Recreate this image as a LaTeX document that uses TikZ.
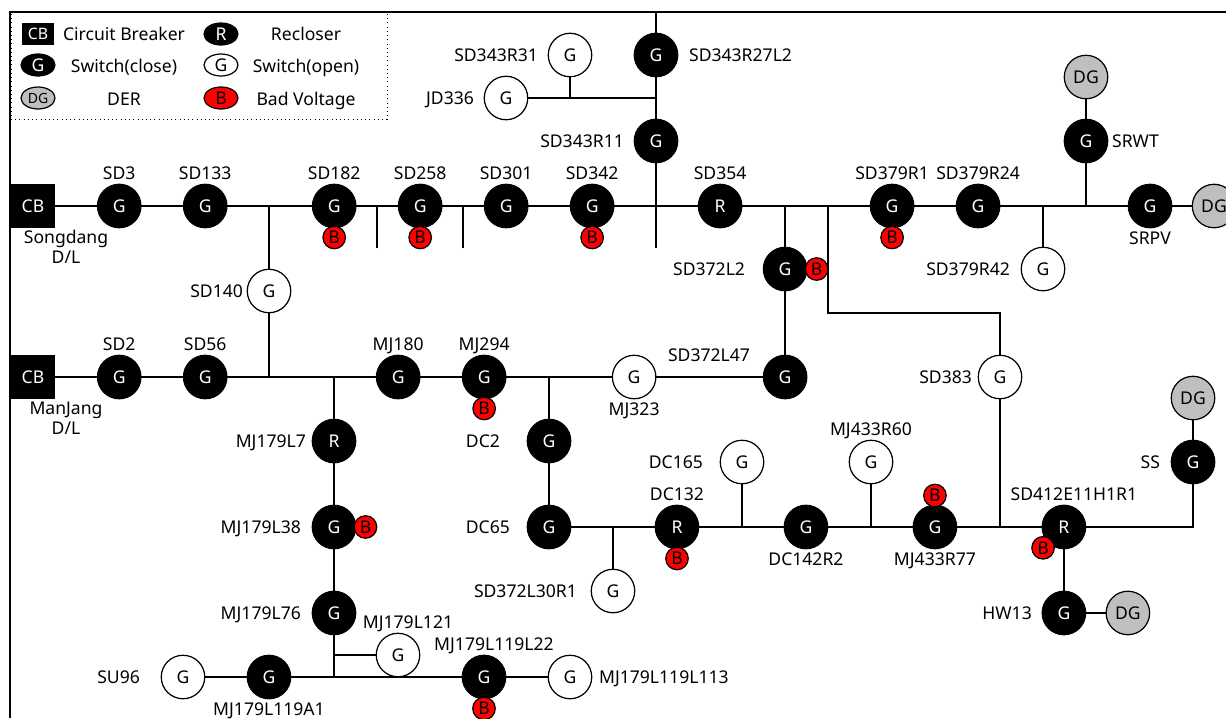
\documentclass[tikz,border=0pt]{standalone}
\usepackage{fontspec}
\setmainfont{Noto Sans}
\usetikzlibrary{shapes.geometric,positioning}

\begin{document}
\begin{tikzpicture}[
        x=0.02cm, y=-0.02cm,
        node distance=0.85cm,
        font=\fontsize{10pt}{11.5pt}\selectfont,
        every label/.style={text=black, inner sep=0.08cm, text depth=0pt},
        base/.style={draw, circle, line width=0.7pt, outer sep=0pt, minimum size=0.87cm, inner sep=0pt},
        closed/.style={base, fill=black, text=white},
        open/.style={base, fill=white},
        der/.style={base, fill=black!25},
        cbk/.style={rectangle, fill=black, text=white, outer sep=0pt, minimum size=0.88cm, inner sep=0pt},
        badge/.style={draw, circle, line width=0.7pt, outer sep=0pt, fill=red, minimum size=0.45cm, inner sep=0pt},
        lgd/.style={ellipse, minimum width=0.68cm, minimum height=0.44cm, inner sep=0pt},
        lgt/.style={anchor=base},
        wire/.style={line width=1.1pt}
    ]
        \useasboundingbox (0,0) rectangle (1226,718);

        % Frame
        \draw[wire] (10,718) -- (10,12) -- (1226,12);

        % Legend
        \node[draw, dotted, minimum width=7.52cm, minimum height=2.14cm] (legend) at (199,66) {};
        \node[cbk, minimum width=0.66cm, minimum height=0.44cm, font=\small] (lgcb) at (38,34) {CB};
        \node[closed, lgd] (lgr) at (221,34) {R};
        \node[closed, lgd] (lgg) at (38,65) {G};
        \node[open, lgd] (lgo) at (221,65) {G};
        \node[der, lgd, font=\footnotesize] (lgdg) at (38,98) {DG};
        \node[badge, lgd] (lgb) at (221,98) {B};
        \node[lgt] (lgcbt) at (124,40) {Circuit Breaker};
        \node[lgt] (lgrt) at (306,40) {Recloser};
        \node[lgt] (lggt) at (124,72) {Switch(close)};
        \node[lgt] (lgot) at (306,72) {Switch(open)};
        \node[lgt] (lgdgt) at (124,105) {DER};
        \node[lgt] (lgbt) at (306,105) {Bad Voltage};

        % Songdang feeder
        \node[cbk] (cb1) at (33,206) {CB};
        \node[align=center] (songdang) at (66,247) {Songdang\\D/L};
        \node[closed, right=of cb1, label=above:SD3] (sd3) {G};
        \node[closed, right=of sd3, label=above:SD133] (sd133) {G};
        \node[closed, right=1.71cm of sd133, label=above:SD182] (sd182) {G};
        \node[closed, right=of sd182, label=above:SD258] (sd258) {G};
        \node[closed, right=of sd258, label=above:SD301] (sd301) {G};
        \node[closed, right=of sd301, label=above:SD342] (sd342) {G};
        \node[closed, right=1.69cm of sd342, label=above:SD354] (sd354) {R};
        \node[closed, right=2.57cm of sd354, label=above:SD379R1] (sd379r1) {G};
        \node[closed, right=of sd379r1, label=above:SD379R24] (sd379r24) {G};
        \node[closed, right=2.57cm of sd379r24, label=below:SRPV] (srpv) {G};
        \node[der, right=0.41cm of srpv] (dgsrpv) {DG};
        \node[closed, label=right:SRWT] (srwt) at (1086,141) {G};
        \node[der, above=0.41cm of srwt] (dgsrwt) {DG};
        \node[open, label={[xshift=-0.14cm]left:SD379R42}] (sd379r42) at (1043,269) {G};
        \node[open, label=left:SD140] (sd140) at (269,291) {G};

        % Upper branch
        \node[closed, label={[xshift=0.14cm]right:SD343R27L2}] (sd343r27l2) at (656,55) {G};
        \node[closed, below=of sd343r27l2, label={[xshift=-0.12cm]left:SD343R11}] (sd343r11) {G};
        \node[open, label={[xshift=-0.12cm]left:SD343R31}] (sd343r31) at (570,55) {G};
        \node[open, label={[xshift=-0.12cm]left:JD336}] (jd336) at (506,98) {G};

        % ManJang feeder
        \node[cbk] (cb2) at (33,377) {CB};
        \node[align=center] (manjang) at (66,418) {ManJang\\D/L};
        \node[closed, right=of cb2, label=above:SD2] (sd2) {G};
        \node[closed, right=of sd2, label=above:SD56] (sd56) {G};
        \node[closed, right=2.99cm of sd56, label=above:MJ180] (mj180) {G};
        \node[closed, right=of mj180, label=above:MJ294] (mj294) {G};
        \node[open, right=2.13cm of mj294, label=below:MJ323] (mj323) {G};
        \node[closed, right=2.15cm of mj323] (sd372l47) {G};
        \node[text depth=0pt] (sd372l47t) at (709,355) {SD372L47};
        \node[closed, above=1.29cm of sd372l47, label={[xshift=-0.28cm]left:SD372L2}] (sd372l2) {G};
        \node[open, label={[xshift=-0.04cm]left:SD383}] (sd383) at (1000,377) {G};

        % MJ179 branch
        \node[closed, label={[xshift=-0.04cm]left:MJ179L7}] (mj179l7) at (334,441) {R};
        \node[closed, below=of mj179l7, label={[xshift=-0.14cm]left:MJ179L38}] (mj179l38) {G};
        \node[closed, below=of mj179l38, label={[xshift=-0.14cm]left:MJ179L76}] (mj179l76) {G};
        \node[open, label={[xshift=0.2cm]above:MJ179L121}] (mj179l121) at (398,655) {G};
        \node[open, label={[xshift=-0.34cm]left:SU96}] (su96) at (183,677) {G};
        \node[closed, right=of su96, label=below:MJ179L119A1] (mj179l119a1) {G};
        \node[closed, label={[xshift=0.2cm]above:MJ179L119L22}] (mj179l119l22) at (484,677) {G};
        \node[open, right=of mj179l119l22, label={[xshift=0.06cm]right:MJ179L119L113}] (mj179l119l113) {G};

        % DC branch
        \node[closed, label={[xshift=-0.46cm]left:DC2}] (dc2) at (549,441) {G};
        \node[closed, below=of dc2, label={[xshift=-0.26cm]left:DC65}] (dc65) {G};
        \node[closed, right=1.69cm of dc65, label=above:DC132] (dc132) {R};
        \node[closed, right=1.71cm of dc132, label=below:DC142R2] (dc142r2) {G};
        \node[closed, right=1.71cm of dc142r2, label=below:MJ433R77] (mj433r77) {G};
        \node[closed, right=1.71cm of mj433r77, label={[xshift=0.2cm]above:SD412E11H1R1}] (sd412) {R};
        \node[closed, below=of sd412, label={[xshift=-0.12cm]left:HW13}] (hw13) {G};
        \node[der, right=0.41cm of hw13] (dghw13) {DG};
        \node[closed, label={[xshift=-0.14cm]left:SS}] (ss) at (1193,462) {G};
        \node[der, above=0.41cm of ss] (dgss) {DG};
        \node[open, label={[xshift=-0.26cm]left:DC165}] (dc165) at (742,462) {G};
        \node[open, label=above:MJ433R60] (mj433r60) at (871,462) {G};
        \node[open, label={[xshift=-0.2cm]left:SD372L30R1}] (sd372l30r1) at (613,591) {G};

        % Bad voltage marks
        \node[badge, below=-0.03cm of sd182] (bsd182) {B};
        \node[badge, below=-0.03cm of sd258] (bsd258) {B};
        \node[badge, below=-0.03cm of sd342] (bsd342) {B};
        \node[badge, below=-0.03cm of sd379r1] (bsd379r1) {B};
        \node[badge, right=-0.03cm of sd372l2] (bsd372l2) {B};
        \node[badge, below=-0.03cm of mj294] (bmj294) {B};
        \node[badge, right=-0.03cm of mj179l38] (bmj179l38) {B};
        \node[badge, below=-0.03cm of mj179l119l22] (bmj179l119l22) {B};
        \node[badge, below=-0.03cm of dc132] (bdc132) {B};
        \node[badge, above=-0.03cm of mj433r77] (bmj433r77) {B};
        \node[badge, below left=-0.05cm and -0.05cm of sd412] (bsd412) {B};

        % Free ends
        \coordinate (tick1) at (377,248);
        \coordinate (tick2) at (463,248);
        \coordinate (tick3) at (656,248);
        \coordinate (topend) at (656,12);
        \coordinate (turn) at (828,313);
        \coordinate (mj179j) at (334,677);

        % Connections
        \draw[wire] (cb1) -- (sd3) -- (sd133) -- (sd182) -- (sd258) -- (sd301) -- (sd342) -- (sd354) -- (sd379r1) -- (sd379r24) -- (srpv) -- (dgsrpv);
        \draw[wire] (cb2) -- (sd2) -- (sd56) -- (mj180) -- (mj294) -- (mj323) -- (sd372l47);
        \draw[wire] (su96) -- (mj179l119a1) -- (mj179l119l22) -- (mj179l119l113);
        \draw[wire] (dc65) -- (dc132) -- (dc142r2) -- (mj433r77) -- (sd412);
        \draw[wire] (sd140) -- (sd140 |- sd133);
        \draw[wire] (sd140) -- (sd140 |- sd56);
        \draw[wire] (tick1) -- (tick1 |- sd182);
        \draw[wire] (tick2) -- (tick2 |- sd258);
        \draw[wire] (topend) -- (sd343r27l2);
        \draw[wire] (sd343r27l2) -- (sd343r11);
        \draw[wire] (sd343r11) -- (tick3);
        \draw[wire] (jd336) -- (jd336 -| sd343r11);
        \draw[wire] (sd343r31) -- (sd343r31 |- jd336);
        \draw[wire] (srwt) -- (dgsrwt);
        \draw[wire] (srwt) -- (srwt |- srpv);
        \draw[wire] (sd379r42) -- (sd379r42 |- srpv);
        \draw[wire] (sd372l2) -- (sd372l2 |- sd354);
        \draw[wire] (sd372l2) -- (sd372l47);
        \draw[wire] (turn |- sd354) -- (turn) -| (sd383);
        \draw[wire] (sd383) -- (sd383 |- sd412);
        \draw[wire] (mj179l7) -- (mj179l7 |- sd56);
        \draw[wire] (mj179l7) -- (mj179l38) -- (mj179l76) -- (mj179j);
        \draw[wire] (mj179l121) -- (mj179l121 -| mj179l76);
        \draw[wire] (dc2) -- (dc2 |- mj294);
        \draw[wire] (dc2) -- (dc65);
        \draw[wire] (dc165) -- (dc165 |- dc132);
        \draw[wire] (mj433r60) -- (mj433r60 |- mj433r77);
        \draw[wire] (sd372l30r1) -- (sd372l30r1 |- dc65);
        \draw[wire] (sd412) -- (sd412 -| ss) -- (ss);
        \draw[wire] (ss) -- (dgss);
        \draw[wire] (sd412) -- (hw13) -- (dghw13);
    \end{tikzpicture}
\end{document}
